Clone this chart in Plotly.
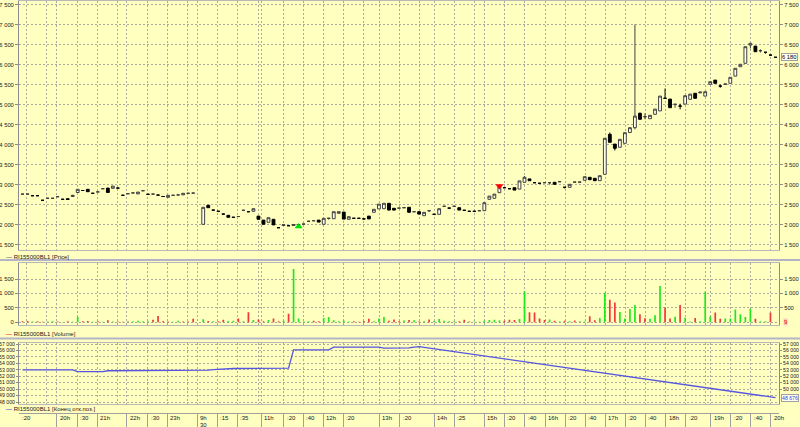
import plotly.graph_objects as go

# ---------------- data ----------------
opens = [2760,2760,2720,2720,2605,2655,2655,2695,2630,2645,
         2700,2800,2850,2880,2780,2815,2895,2910,2905,2910,
         2730,2770,2790,2765,2845,2755,2760,2735,2700,2680,
         2730,2740,2740,2780,2785,None,2005,2480,2360,2330,
         2260,2230,2180,2200,2355,2320,2330,2210,2110,2055,
         2130,1920,1975,1970,1975,1990,2010,2080,2095,2110,
         2005,2155,2145,2280,2310,2130,2155,2155,2140,2210,
         2305,2390,2395,2530,2405,2410,2420,2430,2320,2320,
         2220,2345,2255,2255,2455,2410,2455,2420,2355,2330,
         2330,2345,2345,2630,2655,2795,2920,2895,2920,2885,
         3055,3140,3045,3030,3045,3045,3055,3070,2930,2930,
         3060,3060,3105,3180,3155,3095,3255,4255,4010,3930,
         4030,4300,4420,4780,4695,4645,4755,4840,5155,5135,
         5005,4960,5010,5130,5280,5290,5210,5505,5610,5460,
         5510,5530,5710,5945,6030,6485,6460,6345,6305,6235,
         6180]
highs = [2760,2760,2720,2720,2605,2655,2655,2695,2630,2645,
         2730,2880,2850,2885,2780,2815,2895,2915,2960,2910,
         2730,2770,2790,2810,2845,2755,2760,2735,2700,2730,
         2730,2740,2780,2780,2785,None,2430,2490,2360,2330,
         2260,2230,2180,2200,2355,2320,2395,2210,2110,2170,
         2130,1920,2010,1970,1995,1990,2010,2080,2095,2110,
         2155,2155,2320,2320,2310,2195,2155,2155,2140,2210,
         2380,2510,2530,2530,2405,2410,2420,2430,2320,2320,
         2305,2345,2255,2395,2455,2410,2455,2420,2355,2330,
         2330,2345,2545,2710,2760,2945,2920,2895,2920,3090,
         3210,3140,3045,3030,3045,3045,3055,3070,2930,3005,
         3060,3060,3195,3180,3155,3220,4155,4300,4010,4130,
         4295,4420,7000,4800,4780,4730,4885,5210,5400,5135,
         5005,5020,5220,5260,5280,5310,5320,5570,5610,5500,
         5510,5680,5905,6005,6445,6530,6460,6380,6305,6235,
         6180]
lows = [2760,2760,2720,2720,2605,2655,2655,2695,2630,2625,
        2700,2800,2850,2815,2780,2815,2895,2795,2905,2910,
        2730,2770,2790,2765,2845,2755,2760,2735,2700,2680,
        2730,2740,2740,2780,2785,None,2000,2420,2360,2330,
        2260,2180,2180,2200,2355,2320,2330,2130,2005,2055,
        1990,1920,1975,1970,1975,1990,2010,2080,2095,2060,
        2005,2120,2145,2280,2135,2130,2155,2155,2140,2140,
        2305,2390,2395,2360,2360,2410,2420,2305,2320,2260,
        2220,2310,2255,2255,2455,2410,2455,2360,2355,2330,
        2330,2345,2345,2630,2655,2795,2920,2895,2860,2885,
        3055,3095,3045,3030,3045,3000,3005,3070,2900,2930,
        3060,3060,3105,3120,3095,3095,3255,4055,3850,3930,
        4030,4300,4380,4630,4630,4645,4755,4840,5155,4920,
        4920,4880,5010,5130,5155,5290,5210,5505,5530,5420,
        5510,5530,5710,5945,6030,6400,6320,6300,6270,6235,
        6180]
closes = [2760,2760,2720,2720,2605,2655,2655,2695,2630,2625,
          2730,2880,2850,2820,2780,2815,2895,2800,2960,2910,
          2730,2770,2790,2810,2845,2755,2760,2735,2700,2730,
          2730,2740,2780,2780,2785,None,2430,2420,2360,2330,
          2260,2180,2180,2200,2355,2320,2395,2130,2005,2170,
          1990,1920,1995,1970,1995,1990,2010,2080,2095,2060,
          2155,2155,2320,2320,2135,2195,2155,2155,2140,2140,
          2380,2510,2530,2360,2360,2410,2420,2305,2320,2260,
          2305,2345,2255,2395,2455,2410,2455,2360,2355,2330,
          2330,2345,2545,2710,2760,2945,2920,2895,2860,3090,
          3180,3095,3045,3030,3045,3045,3005,3070,2930,3005,
          3060,3060,3195,3120,3095,3220,4155,4055,3905,4130,
          4295,4420,4710,4630,4695,4730,4885,5210,5155,4920,
          5005,4960,5220,5260,5155,5310,5320,5570,5530,5460,
          5510,5680,5905,6005,6445,6530,6320,6345,6305,6235,
          6180]
volume = [35,45,30,40,15,30,35,25,10,40,
          20,185,40,45,15,35,20,70,25,30,
          15,25,35,50,40,35,90,215,45,30,
          15,55,25,30,120,None,105,45,40,40,
          85,45,50,130,40,350,80,95,40,80,
          130,40,55,300,1850,130,30,40,50,40,
          150,185,70,40,60,30,40,20,45,120,
          40,130,185,50,100,40,60,80,70,30,
          35,100,45,110,50,40,35,40,90,30,
          25,20,55,80,90,60,55,90,80,110,
          1080,350,340,130,80,100,50,30,50,40,
          60,35,30,210,70,150,1020,780,690,360,
          130,460,600,280,140,120,240,1260,500,130,
          190,600,160,30,150,40,1060,200,340,120,
          130,130,440,280,180,470,120,40,40,330,
          9]
vol_side = list("rrgrrggrgr" "ggrrgrgrgr" "rrggggrrrr" "ggrrrggrgr"
                "rggrgrgrrg" "rrgrggggrr" "ggggggrrrr" "gggrrrgrgr"
                "grgggggrrr" "ggggggrrrg" "grrrrgrgrg" "rggrrggrrg"
                "gggrrgggrr" "grggrgggrr" "ggggggrggr" "r")
open_interest = [53000,53000,53000,53000,53000,53000,53000,53000,53000,53000,
                 53000,52700,52700,52700,52700,52700,52700,52850,52850,52850,
                 52850,52850,52850,52850,52850,52900,52900,52900,52900,52900,
                 52850,52850,52850,52850,52850,52850,52870,52950,53030,53100,
                 53150,53200,53200,53200,53200,53200,53200,53150,53150,53150,
                 53250,53250,53250,53250,56100,56100,56100,56100,56100,56100,
                 56100,56100,56500,56500,56500,56500,56500,56500,56500,56500,
                 56500,56500,56350,56350,56350,56350,56350,56400,56500,56600] \
                + [None] * 70 + [48676]
candle_idx = list(range(len(closes)))

buy_x, buy_y = [55], [1950]
sell_x, sell_y = [95], [2965]

price_ticks = [1500, 2000, 2500, 3000, 3500, 4000, 4500, 5000, 5500, 6000, 6500, 7000, 7500]
vol_ticks = [0, 500, 1000, 1500]
vol_ticks_right = [500, 1000, 1500]
oi_ticks = [48000, 49000, 50000, 51000, 52000, 53000, 54000, 55000, 56000, 57000]
oi_ticks_right = [50000, 51000, 52000, 53000, 54000, 55000, 56000, 57000]

grid_idx = [0.7, 4.8, 6.8, 10.9, 14.9, 18.9, 20.8, 24.9, 28.8, 32.8, 34.8, 38.8, 42.8,
            47.0, 47.6, 52.0, 55.9, 59.9, 63.9, 67.9, 71.1, 75.1, 79.0, 82.0, 86.0,
            90.0, 92.0, 96.0, 100.0, 104.1, 108.1, 112.1, 116.1, 120.1, 124.1, 128.1,
            132.1, 136.1, 137.1, 141.1, 145.1, 149.1]
label_idx = [-0.7, 6.8, 10.9, 14.9, 20.8, 24.9, 28.8, 34.8, 38.8, 42.8, 47.6, 52.0,
             55.9, 59.9, 63.9, 71.1, 75.1, 82.0, 86.0, 92.0, 96.0, 100.0, 104.1,
             108.1, 112.1, 116.1, 120.1, 124.1, 128.1, 132.1, 137.1, 141.1, 145.1, 149.1]
label_text = [":20", "20h", ":30", "21h", "22h", ":30", "23h", "9h", ":15", ":35", "11h", ":20",
              ":40", "12h", ":20", "13h", ":20", "14h", ":25", "15h", ":20", ":40", "16h",
              ":20", ":40", "17h", ":20", ":40", "18h", ":20", "19h", ":20", ":40", "20h"]
day_label = "30"
day_idx = 34.8

# ---------------- style ----------------
W, H = 800, 427
ML, MR = 19, 21
BG = "#FFFFC0"
FONT = "Liberation Sans"
FS = 5.8
FS_OI = 5.2
FS_T = 6
GRID = "#ABABA0"
GDASH = "2px,2px"
AXC = "#8C8C8C"
TXT = "#202020"
XR = [-0.7, 150.7]


def py(p):
    return 1 - p / H


def px(p):
    return (p - ML) / (W - ML - MR)


fig = go.Figure()

fig.add_trace(go.Candlestick(
    x=candle_idx, open=opens, high=highs, low=lows, close=closes,
    xaxis="x", yaxis="y",
    increasing=dict(line=dict(color="#404040", width=1), fillcolor="#FFFFF2"),
    decreasing=dict(line=dict(color="#000000", width=1), fillcolor="#000000"),
    whiskerwidth=0, showlegend=False, hoverinfo="skip"))
fig.add_trace(go.Scatter(x=buy_x, y=buy_y, mode="markers", xaxis="x", yaxis="y",
                         marker=dict(symbol="triangle-up", size=7, color="#00E000"),
                         showlegend=False, hoverinfo="skip"))
fig.add_trace(go.Scatter(x=sell_x, y=sell_y, mode="markers", xaxis="x", yaxis="y",
                         marker=dict(symbol="triangle-down", size=7, color="#FF0000"),
                         showlegend=False, hoverinfo="skip"))
fig.add_trace(go.Scatter(x=candle_idx, y=closes, mode="lines", xaxis="x", yaxis="y5",
                         line=dict(width=0), opacity=0, showlegend=False, hoverinfo="skip"))

vcolors = ["#22E622" if s == "g" else "#F03A3A" for s in vol_side]
fig.add_trace(go.Bar(x=candle_idx, y=volume, marker=dict(color=vcolors, line=dict(width=0)),
                     width=0.34, xaxis="x2", yaxis="y2", showlegend=False, hoverinfo="skip"))
fig.add_trace(go.Scatter(x=candle_idx, y=volume, mode="lines", xaxis="x2", yaxis="y6",
                         line=dict(width=0), opacity=0, showlegend=False, hoverinfo="skip"))

fig.add_trace(go.Scatter(x=candle_idx, y=open_interest, mode="lines", connectgaps=True,
                         line=dict(color="#5555E0", width=1.3), xaxis="x3", yaxis="y3",
                         showlegend=False, hoverinfo="skip"))
fig.add_trace(go.Scatter(x=candle_idx, y=open_interest, mode="lines", connectgaps=True,
                         xaxis="x3", yaxis="y7", line=dict(width=0), opacity=0,
                         showlegend=False, hoverinfo="skip"))
fig.add_trace(go.Scatter(x=[label_idx[0]], y=[0.5], mode="markers", xaxis="x4", yaxis="y4",
                         opacity=0, showlegend=False, hoverinfo="skip"))


def xax(anchor):
    return dict(range=XR, anchor=anchor, tickvals=grid_idx, showticklabels=False,
                showgrid=True, gridcolor=GRID, griddash=GDASH, gridwidth=1,
                zeroline=False, showline=True, linecolor="#B8B8B8", mirror=True,
                ticks="", fixedrange=True, automargin=False,
                rangeslider=dict(visible=False))


def yax(domain, rng, ticks, side="left", overlay=None, anchor="x", fs=FS, tl=3):
    d = dict(domain=domain, range=rng, tickvals=ticks, tickformat=",d",
             showgrid=True, gridcolor=GRID, griddash=GDASH, gridwidth=1,
             zeroline=False, showline=True, linecolor=AXC, ticks="outside",
             ticklen=tl, tickcolor=AXC, ticklabelstandoff=0,
             tickfont=dict(size=fs, color=TXT, family=FONT),
             side=side, anchor=anchor, fixedrange=True, automargin=False)
    if overlay:
        d["overlaying"] = overlay
        d["showgrid"] = False
    return d


price_dom = [py(250), py(1)]
vol_dom = [py(325), py(263.3)]
oi_dom = [py(404), py(342.7)]
strip_dom = [0, py(414)]
price_rng = [1362.5, 7587.5]
vol_rng = [-93.6, 2044]
oi_rng = [47690, 57202]

fig.update_layout(
    width=W, height=H, margin=dict(l=ML, r=MR, t=0, b=0, autoexpand=False),
    paper_bgcolor=BG, plot_bgcolor=BG, separators=". ",
    font=dict(family=FONT, size=FS, color=TXT),
    boxgap=0.2,
    xaxis=xax("y"), xaxis2=xax("y2"), xaxis3=xax("y3"),
    xaxis4=dict(range=XR, anchor="y4", tickvals=label_idx[1:], showticklabels=False,
                showgrid=True, gridcolor="#A0A0A0", gridwidth=1, zeroline=False,
                showline=True, linecolor="#A0A0A0", mirror=True, fixedrange=True,
                automargin=False),
    yaxis=yax(price_dom, price_rng, price_ticks, anchor="x"),
    yaxis5=yax(price_dom, price_rng, price_ticks, side="right", overlay="y", anchor="x"),
    yaxis2=yax(vol_dom, vol_rng, vol_ticks, anchor="x2"),
    yaxis6=yax(vol_dom, vol_rng, vol_ticks_right, side="right", overlay="y2", anchor="x2"),
    yaxis3=yax(oi_dom, oi_rng, oi_ticks, anchor="x3", fs=FS_OI, tl=2),
    yaxis7=yax(oi_dom, oi_rng, oi_ticks_right, side="right", overlay="y3", anchor="x3",
               fs=FS_OI, tl=2),
    yaxis4=dict(domain=strip_dom, range=[0, 1], showticklabels=False, showgrid=False,
                zeroline=False, showline=False, fixedrange=True, anchor="x4",
                automargin=False),
)

ann = []
legends = [("#808080", "RI155000BL1 [Price]", 256.5),
           ("#F03A3A", "RI155000BL1 [Volume]", 334),
           ("#5555E0", "RI155000BL1 [Конец отк.поз.]", 409)]
for col, txt, yp in legends:
    ann.append(dict(xref="paper", yref="paper", x=px(4), y=py(yp), xanchor="left",
                    yanchor="middle", showarrow=False,
                    text=f"<span style='color:{col}'><b>—</b></span> {txt}",
                    font=dict(size=FS_T, family=FONT, color=TXT)))
for li, lt in zip(label_idx, label_text):
    ann.append(dict(xref="x4", yref="paper", x=li, y=py(418), xanchor="left", yanchor="middle",
                    xshift=1, showarrow=False, text=lt,
                    font=dict(size=FS_T, family=FONT, color=TXT)))
ann.append(dict(xref="x4", yref="paper", x=day_idx, y=py(424.5), xanchor="left",
                yanchor="middle", xshift=1, showarrow=False, text=day_label,
                font=dict(size=FS_T, family=FONT, color=TXT)))
ann.append(dict(xref="paper", yref="y", x=1, y=closes[-1], xanchor="left", yanchor="middle",
                xshift=2, showarrow=False, text=f"{closes[-1]:,}".replace(",", " "),
                font=dict(size=FS, family=FONT, color="#000000"),
                bgcolor="#FFFFF0", bordercolor="#A0A0A0", borderwidth=1, borderpad=0))
ann.append(dict(xref="paper", yref="y2", x=1, y=volume[-1], xanchor="left", yanchor="middle",
                xshift=4, showarrow=False, text=str(volume[-1]),
                font=dict(size=FS, family=FONT, color="#E00000"),
                bgcolor="#FFC8B8", borderpad=0))
ann.append(dict(xref="paper", yref="y3", x=1, y=open_interest[-1], xanchor="left",
                yanchor="middle", xshift=2, showarrow=False,
                text=f"{open_interest[-1]:,}".replace(",", " "),
                font=dict(size=FS_OI, family=FONT, color="#4040E0"),
                bgcolor="#FFFFF0", bordercolor="#A0A0A0", borderwidth=1, borderpad=0))
fig.update_layout(annotations=ann)

shapes = []
for yp in (260, 338.5):
    shapes.append(dict(type="line", xref="paper", yref="paper", x0=px(0), x1=px(W),
                       y0=py(yp), y1=py(yp), line=dict(color="#B4B4C8", width=2)))
fig.update_layout(shapes=shapes)

fig.write_html("out.html", config={"displayModeBar": False, "staticPlot": True},
               post_script=f"document.body.style.margin='0';"
                           f"document.body.style.background='{BG}';")
